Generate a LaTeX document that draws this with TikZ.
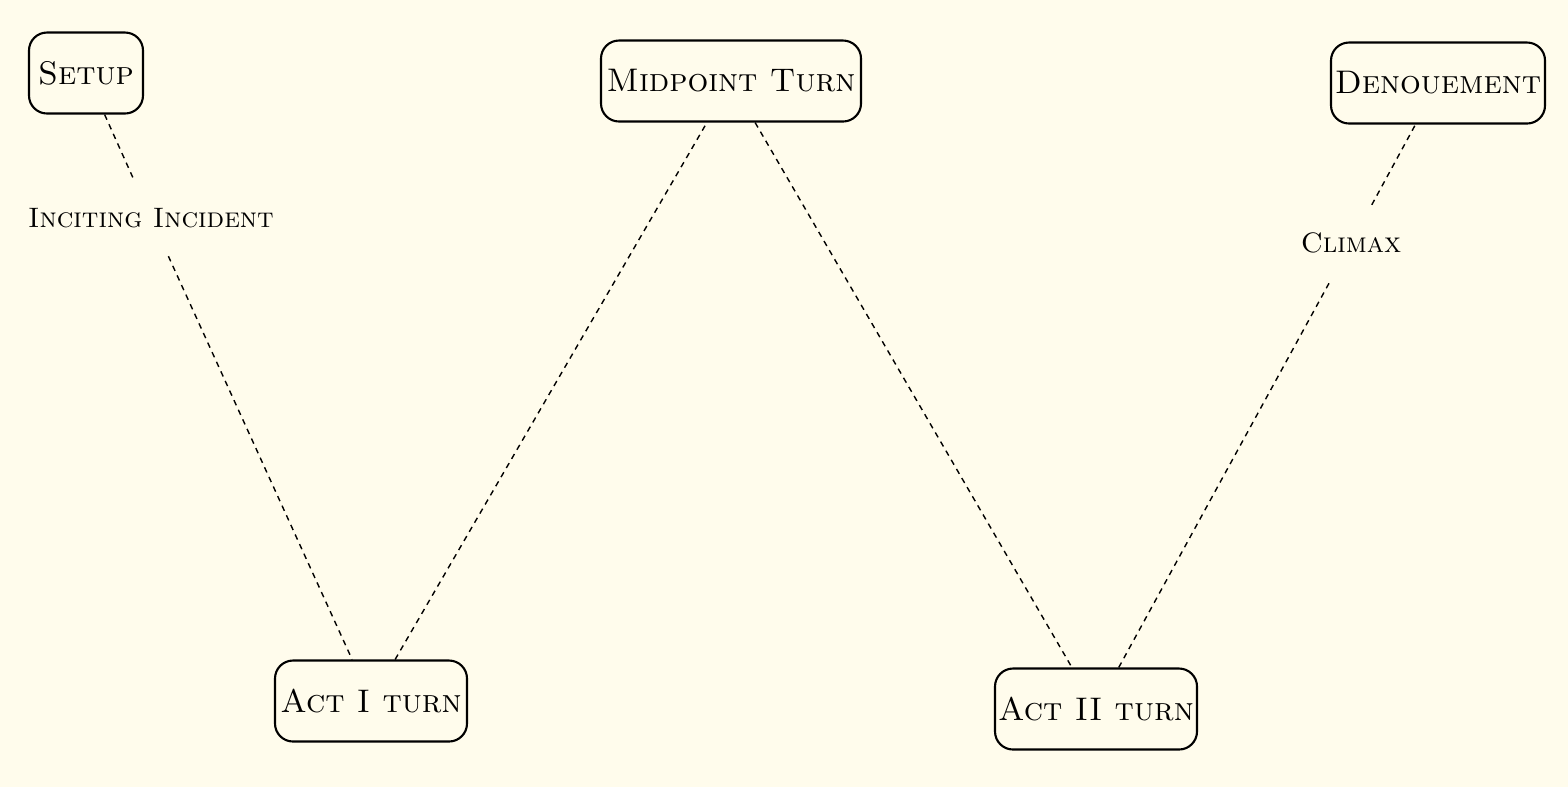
\documentclass[tikz,border=0pt]{standalone}
\usepackage{tikz}
\usetikzlibrary{arrows.meta,positioning}
\definecolor{paper}{RGB}{255,252,236}

\begin{document}
\begin{tikzpicture}[
      mybox/.style={
         rectangle,
         rounded corners=0.18cm,
         draw=black,
         line width=0.6pt,
         inner sep=0pt,
         minimum height=0.81cm,
         font=\fontsize{9.3}{11}\selectfont\scshape},
      mylabel/.style={
         inner sep=0pt,
         minimum height=0.75cm,
         font=\fontsize{8}{10}\selectfont\scshape},
      mydash/.style={line width=0.4pt, dash pattern=on 1.6pt off 1.4pt}
      ]
      \fill[paper] (0,0) rectangle (15.68,-7.87);
      \useasboundingbox (0,0) rectangle (15.68,-7.87);

      \node[mybox, minimum width=1.14cm] (setup) at (0.86,-0.73) {Setup};
      \node[mybox, minimum width=2.60cm] (midpoint) at (7.31,-0.81) {Midpoint Turn};
      \node[mybox, minimum width=2.14cm] (denouement) at (14.38,-0.83) {Denouement};
      \node[mybox, minimum width=1.92cm] (actone) at (3.71,-7.01) {Act I turn};
      \node[mybox, minimum width=2.02cm] (acttwo) at (10.96,-7.09) {Act II turn};

      \node[mylabel] (inciting) at (1.51,-2.18) {Inciting Incident};
      \node[mylabel] (climax) at (13.51,-2.43) {Climax};

    \foreach \i/\j in {% start node/end node
      setup/inciting,
      inciting/actone,
      actone/midpoint,
      midpoint/acttwo,
      acttwo/climax,
      climax/denouement}
       \draw[mydash] (\i) -- (\j);
    \end{tikzpicture}
\end{document}
